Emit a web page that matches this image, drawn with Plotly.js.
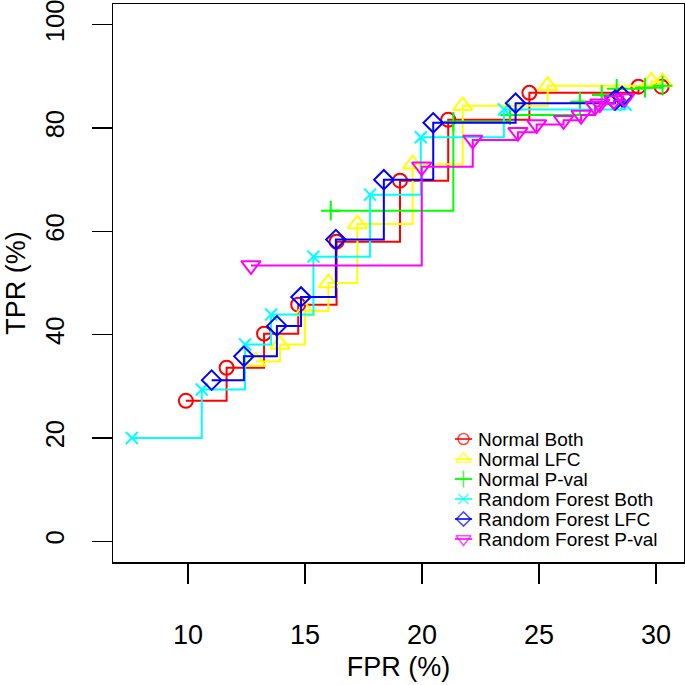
<!DOCTYPE html>
<html>
<head>
<meta charset="utf-8">
<script src="https://cdn.plot.ly/plotly-3.0.1.min.js"></script>
<style>html,body{margin:0;padding:0;background:#fff;}#chart{width:685px;height:685px;}</style>
</head>
<body>
<div id="chart"></div>
<script>
// Series names
const seriesNames = ["Normal Both", "Normal LFC", "Normal P-val", "Random Forest Both", "Random Forest LFC", "Random Forest P-val"];

// Normal Both (FPR %, TPR %)
const normalBothFPR = [9.91, 11.65, 13.25, 14.71, 16.35, 19.06, 21.12, 24.59, 29.25, 30.24];
const normalBothTPR = [27.2, 33.6, 40.2, 45.8, 58.0, 69.8, 81.6, 86.8, 88.0, 88.0];

// Normal LFC
const normalLfcFPR = [12.9, 13.93, 15.0, 16.0, 17.24, 19.6, 21.74, 25.37, 29.8, 30.28];
const normalLfcTPR = [34.8, 38.1, 44.6, 50.0, 61.4, 73.0, 84.3, 88.2, 89.0, 88.9];

// Normal P-val
const normalPvalFPR = [16.1, 21.34, 23.76, 26.75, 27.68, 28.32, 29.53, 30.28];
const normalPvalTPR = [64.0, 81.2, 82.5, 85.1, 86.4, 87.6, 87.8, 88.2];

// Random Forest Both
const rfBothFPR = [7.6, 10.59, 12.44, 13.55, 15.36, 17.78, 19.95, 23.5, 28.7];
const rfBothTPR = [20.0, 29.4, 38.1, 43.9, 55.1, 67.1, 78.2, 83.6, 84.5];

// Random Forest LFC
const rfLfcFPR = [11.01, 12.39, 13.8, 14.83, 16.32, 18.37, 20.48, 24.0, 28.25, 28.55];
const rfLfcTPR = [31.2, 35.8, 41.7, 47.3, 58.4, 70.0, 81.0, 84.8, 85.4, 86.1];

// Random Forest P-val
const rfPvalFPR = [12.69, 19.99, 22.17, 24.1, 24.9, 26.05, 26.8, 27.4, 27.6, 28.2, 28.65];
const rfPvalTPR = [53.4, 72.5, 77.7, 79.2, 80.7, 81.5, 82.5, 84.2, 84.7, 85.3, 85.7];

// Axis ticks
const xTicks = [10, 15, 20, 25, 30];
const yTicks = [0, 20, 40, 60, 80, 100];

const xs = [normalBothFPR, normalLfcFPR, normalPvalFPR, rfBothFPR, rfLfcFPR, rfPvalFPR];
const ys = [normalBothTPR, normalLfcTPR, normalPvalTPR, rfBothTPR, rfLfcTPR, rfPvalTPR];
const colors = ["#FF0000", "#FFFF00", "#00FF00", "#00FFFF", "#0000FF", "#FF00FF"];
const symbols = ["circle-open", "triangle-up-open", "cross-thin-open", "x-thin-open", "diamond-open", "triangle-down-open"];
const sizes = [14, 17, 14, 12, 15, 17];
const keySizes = [11, 13, 12, 10, 11, 13];

const traces = seriesNames.map((name, i) => ({
  type: "scatter",
  mode: "lines+markers",
  name: name,
  x: xs[i],
  y: ys[i],
  showlegend: false,
  line: {color: colors[i], width: 2, shape: "hv"},
  marker: {symbol: symbols[i], size: sizes[i], color: colors[i], line: {color: colors[i], width: 2}},
  cliponaxis: false
}));

// Manual legend (R-style, no box) in plot-area fractional coordinates via hidden overlay axes
const L = 113, R = 684, T = 4, B = 562;
const fx = px => (px - L) / (R - L);
const fy = py => (B - py) / (B - T);
const rowY0 = 439, rowStep = 20;
const annotations = [];
seriesNames.forEach((name, i) => {
  const yy = fy(rowY0 + rowStep * i);
  traces.push({
    type: "scatter", mode: "lines+markers", xaxis: "x2", yaxis: "y2",
    x: [fx(455), fx(463.5), fx(472)], y: [yy, yy, yy],
    showlegend: false, hoverinfo: "skip", cliponaxis: false,
    line: {color: colors[i], width: 1.6},
    marker: {symbol: symbols[i], size: [0, keySizes[i], 0], color: colors[i], line: {color: colors[i], width: 1.6}}
  });
  annotations.push({
    xref: "x2", yref: "y2", x: fx(477), y: yy, xanchor: "left", yanchor: "middle",
    text: name, showarrow: false, borderpad: 0,
    font: {family: "Liberation Sans, Arial, sans-serif", size: 19, color: "#000"}
  });
});

const font = "Liberation Sans, Arial, sans-serif";
const layout = {
  width: 685, height: 685,
  margin: {l: 113, r: 1, t: 4, b: 123},
  paper_bgcolor: "#ffffff",
  plot_bgcolor: "#ffffff",
  font: {family: font, color: "#000"},
  showlegend: false,
  annotations: annotations,
  xaxis: {
    range: [6.795, 31.197],
    tickmode: "array", tickvals: xTicks, ticktext: xTicks.map(String),
    ticks: "outside", ticklen: 20, tickwidth: 1.5, tickcolor: "#000",
    ticklabelstandoff: 28, ticklabeloverflow: "allow",
    showline: true, linecolor: "#000", linewidth: 1.5, mirror: true,
    showgrid: false, zeroline: false,
    tickfont: {family: font, size: 27, color: "#000"},
    title: {text: "FPR (%)", font: {family: font, size: 27, color: "#000"}, standoff: 8}
  },
  yaxis: {
    range: [-4, 104],
    tickmode: "array", tickvals: yTicks, ticktext: yTicks.map(String),
    ticks: "outside", ticklen: 20, tickwidth: 1.5, tickcolor: "#000",
    tickangle: -90, ticklabelstandoff: 17, ticklabeloverflow: "allow",
    showline: true, linecolor: "#000", linewidth: 1.5, mirror: true,
    showgrid: false, zeroline: false,
    tickfont: {family: font, size: 25.5, color: "#000"},
    title: {text: "TPR (%)", font: {family: font, size: 27, color: "#000"}, standoff: 8}
  },
  xaxis2: {overlaying: "x", range: [0, 1], visible: false, fixedrange: true},
  yaxis2: {overlaying: "y", range: [0, 1], visible: false, fixedrange: true}
};

Plotly.newPlot("chart", traces, layout, {displayModeBar: false, staticPlot: true});
</script>
</body>
</html>
